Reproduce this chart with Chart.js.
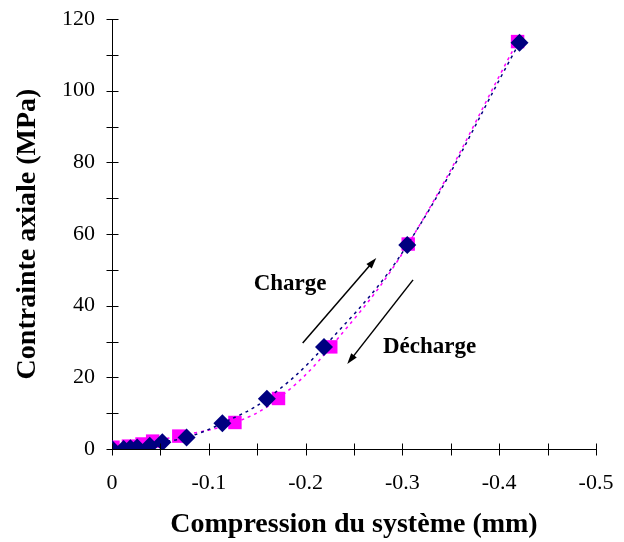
<!DOCTYPE html>
<html>
<head>
<meta charset="utf-8">
<script src="https://cdn.jsdelivr.net/npm/chart.js@4"></script>
<style>
  html, body { margin: 0; padding: 0; background: #fff; }
  #wrap { width: 624px; height: 542px; }
</style>
</head>
<body>
<div id="wrap"><canvas id="chart"></canvas></div>
<script>
// charge (loading) - navy diamonds
const chargeX = [0, -0.012, -0.019, -0.026, -0.039, -0.052, -0.077, -0.114, -0.160, -0.219, -0.305, -0.421];
const chargeY = [0, 0.0, 0.2, 0.4, 0.9, 1.9, 3.2, 7.2, 14.0, 28.5, 56.9, 113.4];

// décharge (unloading) - magenta squares
const dechargeX = [-0.419, -0.306, -0.226, -0.172, -0.127, -0.069, -0.042, -0.031, -0.017, -0.001];
const dechargeY = [113.7, 57.2, 28.5, 14.1, 7.4, 3.6, 2.2, 1.4, 0.8, 0.5];

const xTicks = [0, -0.1, -0.2, -0.3, -0.4, -0.5];
const yTicks = [0, 20, 40, 60, 80, 100, 120];

const serif = "'Liberation Serif', 'Times New Roman', serif";

const toPoints = (xs, ys) => xs.map((x, i) => ({ x, y: ys[i] }));

// cross ticks, arrows and the Charge / Décharge labels
const extras = {
  id: "extras",
  afterDraw(chart) {
    const ctx = chart.ctx;
    const xs = chart.scales.x, ys = chart.scales.y;
    ctx.save();
    ctx.strokeStyle = "#000";
    ctx.lineWidth = 1;
    const x0 = Math.round(xs.getPixelForValue(0)) + 0.5;
    const y0 = Math.round(ys.getPixelForValue(0)) + 0.5;
    for (let v = 0; v <= 120; v += 10) {
      const py = Math.round(ys.getPixelForValue(v)) + 0.5;
      ctx.beginPath(); ctx.moveTo(x0 - 6, py); ctx.lineTo(x0 + 6, py); ctx.stroke();
    }
    for (let v = 0; v >= -0.5001; v -= 0.05) {
      const px = Math.round(xs.getPixelForValue(v)) + 0.5;
      ctx.beginPath(); ctx.moveTo(px, y0 - 6); ctx.lineTo(px, y0 + 6); ctx.stroke();
    }

    const arrow = (xa, ya, xb, yb) => {
      const ax = xs.getPixelForValue(xa), ay = ys.getPixelForValue(ya);
      const bx = xs.getPixelForValue(xb), by = ys.getPixelForValue(yb);
      const ang = Math.atan2(by - ay, bx - ax);
      ctx.lineWidth = 1.5;
      ctx.beginPath(); ctx.moveTo(ax, ay); ctx.lineTo(bx - 6 * Math.cos(ang), by - 6 * Math.sin(ang)); ctx.stroke();
      ctx.fillStyle = "#000";
      ctx.beginPath();
      ctx.moveTo(bx, by);
      ctx.lineTo(bx - 11 * Math.cos(ang) + 3.5 * Math.sin(ang), by - 11 * Math.sin(ang) - 3.5 * Math.cos(ang));
      ctx.lineTo(bx - 11 * Math.cos(ang) - 3.5 * Math.sin(ang), by - 11 * Math.sin(ang) + 3.5 * Math.cos(ang));
      ctx.closePath(); ctx.fill();
    };
    arrow(-0.197, 29.6, -0.273, 53.3);
    arrow(-0.311, 47.2, -0.243, 23.7);

    ctx.fillStyle = "#000";
    ctx.font = "bold 23px " + serif;
    ctx.textAlign = "center";
    ctx.textBaseline = "middle";
    ctx.fillText("Charge", xs.getPixelForValue(-0.184), ys.getPixelForValue(46.0));
    ctx.fillText("Décharge", xs.getPixelForValue(-0.328), ys.getPixelForValue(28.5));
    ctx.restore();
  }
};

new Chart(document.getElementById("chart"), {
  type: "scatter",
  data: {
    datasets: [
      {
        label: "Charge",
        data: toPoints(chargeX, chargeY),
        showLine: true,
        tension: 0.4,
        borderColor: "#000080",
        borderWidth: 1.5,
        borderDash: [3, 4],
        pointStyle: "rectRot",
        pointRadius: 9,
        pointBackgroundColor: "#000080",
        pointBorderColor: "#000080",
        pointBorderWidth: 0,
        order: 0,
      },
      {
        label: "Décharge",
        data: toPoints(dechargeX, dechargeY),
        showLine: true,
        tension: 0.4,
        borderColor: "#ff00ff",
        borderWidth: 1.5,
        borderDash: [3, 4],
        borderDashOffset: 3,
        pointStyle: "rect",
        pointRadius: 9.5,
        pointBackgroundColor: "#ff00ff",
        pointBorderColor: "#ff00ff",
        pointBorderWidth: 0,
        order: 1,
      },
    ],
  },
  options: {
    responsive: true,
    maintainAspectRatio: false,
    animation: false,
    layout: { padding: { top: 19, right: 28, left: 0, bottom: 0 } },
    plugins: { legend: { display: false }, tooltip: { enabled: false } },
    scales: {
      x: {
        type: "linear",
        min: -0.5,
        max: 0,
        reverse: true,
        afterBuildTicks: (s) => { s.ticks = xTicks.map((v) => ({ value: v })); },
        afterFit: (s) => { s.height = 93; s.paddingLeft = 0; s.paddingRight = 0; },
        grid: { display: false, drawTicks: false },
        border: { display: true, color: "#000", width: 1 },
        ticks: {
          padding: 21,
          color: "#000",
          font: { family: serif, size: 22 },
          callback: (v) => (v === 0 ? "0" : String(Math.round(v * 10) / 10)),
        },
        title: {
          display: true,
          text: "Compression du système (mm)",
          color: "#000",
          font: { family: serif, size: 28, weight: "bold" },
          padding: { top: 0, bottom: 0 },
        },
      },
      y: {
        type: "linear",
        min: 0,
        max: 120,
        afterBuildTicks: (s) => { s.ticks = yTicks.map((v) => ({ value: v })); },
        afterFit: (s) => { s.width = 112; s.paddingTop = 0; s.paddingBottom = 0; },
        grid: { display: false, drawTicks: false },
        border: { display: true, color: "#000", width: 1 },
        ticks: {
          padding: 17,
          color: "#000",
          font: { family: serif, size: 22 },
        },
        title: {
          display: true,
          text: "Contrainte axiale (MPa)",
          color: "#000",
          font: { family: serif, size: 28, weight: "bold" },
          padding: { top: 11, bottom: 0 },
        },
      },
    },
  },
  plugins: [extras],
});
</script>
</body>
</html>
